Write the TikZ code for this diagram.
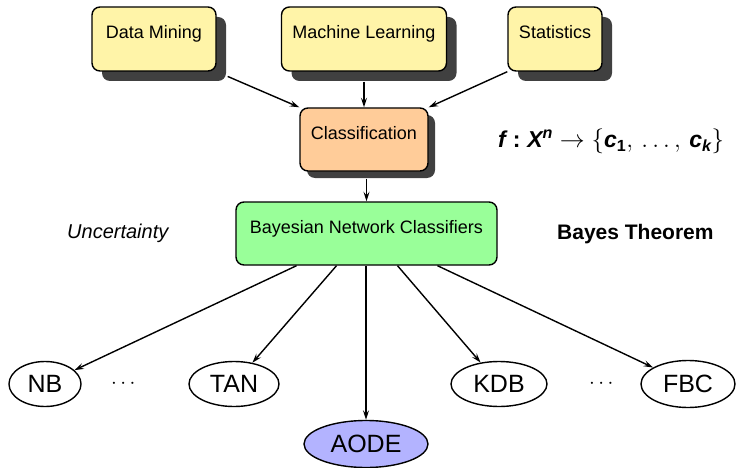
\documentclass[tikz,border=0pt]{standalone}
\usepackage{amsmath}
\usepackage{fontspec}
\setmainfont{Liberation Sans}
\usetikzlibrary{shapes.geometric,shadows,arrows.meta}

\definecolor{topfill}{RGB}{255,244,168}
\definecolor{clsfill}{RGB}{255,204,153}
\definecolor{bncfill}{RGB}{153,255,153}
\definecolor{aodefill}{RGB}{179,179,255}
\definecolor{shadowgray}{RGB}{64,64,64}

\newcommand{\bi}[1]{\text{\bfseries\itshape #1}}

\tikzset{
  box/.style={draw, line width=1.4pt, rounded corners=8pt, inner sep=0pt,
    text height=12pt, text depth=12pt, align=center,
    font=\fontsize{18}{22}\selectfont},
  shadowed/.style={drop shadow={shadow xshift=#1, shadow yshift=-#1,
    fill=shadowgray, opacity=1}},
  leaf/.style={draw, ellipse, line width=1.4pt, inner sep=0pt,
    font=\fontsize{25}{30}\selectfont},
  arr/.style={-{Stealth[length=9.5pt,width=6pt,inset=3.5pt]}, line width=1.4pt},
  side/.style={anchor=base west, inner sep=0pt}
}

\begin{document}
\begin{tikzpicture}[x=1pt, y=-1pt]
  \useasboundingbox (0,0) rectangle (736,468);

  % sources
  \node[box, shadowed=10pt, fill=topfill, minimum width=124pt, minimum height=64pt]
    (dm) at (154,39) {Data Mining};
  \node[box, shadowed=10pt, fill=topfill, minimum width=165pt, minimum height=64pt]
    (ml) at (364,39) {Machine Learning};
  \node[box, shadowed=10pt, fill=topfill, minimum width=94pt, minimum height=64pt]
    (st) at (555,39) {Statistics};

  % classification task
  \node[box, shadowed=7pt, fill=clsfill, minimum width=128pt, minimum height=63pt]
    (cls) at (364,139.5) {Classification};

  % Bayesian network classifiers
  \node[box, fill=bncfill, minimum width=261pt, minimum height=63pt]
    (bnc) at (366.5,233.5) {Bayesian Network Classifiers};

  % side labels
  \node[side, font=\fontsize{20}{24}\selectfont\itshape] (unc) at (67,238) {Uncertainty};
  \node[side, font=\fontsize{21}{25}\selectfont\bfseries] (bt) at (557,239) {Bayes Theorem};
  \node[side, font=\fontsize{23}{27}\selectfont] (fx) at (498,148)
    {$\bi{f}\mathrel{\textbf{:}}\bi{X}^{\bi{n}}\rightarrow\{\bi{c}_{\textbf{1}},\,.\,.\,.\,,\,\bi{c}_{\bi{k}}\}$};

  % classifier families
  \node[leaf, minimum width=72pt, minimum height=45pt] (nb) at (45,384) {NB};
  \node[leaf, minimum width=90pt, minimum height=45pt] (tan) at (234,384) {TAN};
  \node[leaf, fill=aodefill, minimum width=124pt, minimum height=47pt] (aode) at (366,444) {AODE};
  \node[leaf, minimum width=96pt, minimum height=45pt] (kdb) at (499,384) {KDB};
  \node[leaf, minimum width=94pt, minimum height=47pt] (fbc) at (688,384) {FBC};
  \node[font=\fontsize{20}{24}\selectfont, inner sep=0pt] (d1) at (125,384) {$\cdots$};
  \node[font=\fontsize{20}{24}\selectfont, inner sep=0pt] (d2) at (603,384) {$\cdots$};

  % connectors
  \draw[arr, shorten <=12pt] (dm.south east) -- (cls.north west);
  \draw[arr] ([yshift=-10pt]ml.south -| cls.north) -- (cls.north);
  \draw[arr] (st.south west) -- (cls.north east);
  \draw[arr] ([yshift=-7pt]cls.south -| bnc.north) -- (bnc.north);

  \draw[arr] ([xshift=-70pt]bnc.south) -- (nb);
  \draw[arr] ([xshift=-30pt]bnc.south) -- (tan);
  \draw[arr] (bnc.south -| aode.north) -- (aode.north);
  \draw[arr] ([xshift=31pt]bnc.south) -- (kdb);
  \draw[arr] ([xshift=71pt]bnc.south) -- (fbc);
\end{tikzpicture}
\end{document}
